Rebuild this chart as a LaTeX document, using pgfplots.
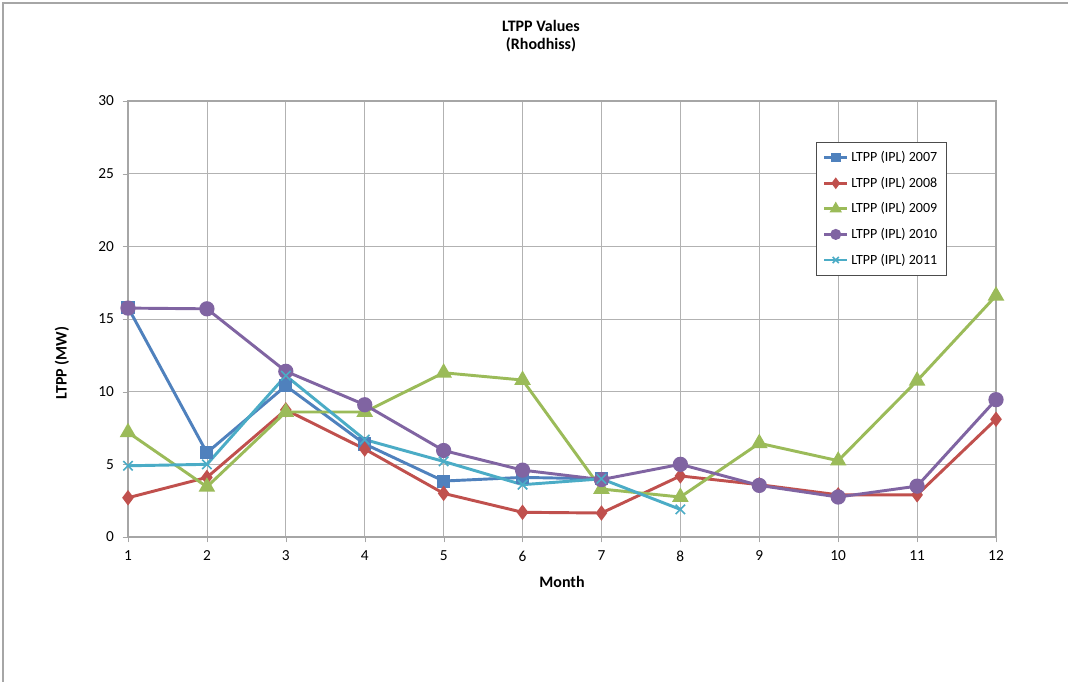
\documentclass[border=0pt]{standalone}
\usepackage{pgfplots}
\pgfplotsset{compat=1.18}
\usepackage{fontspec}
\setmainfont{Carlito}
\definecolor{c07}{HTML}{4F81BD}
\definecolor{c08}{HTML}{C0504D}
\definecolor{c09}{HTML}{9BBB59}
\definecolor{c10}{HTML}{8064A2}
\definecolor{c11}{HTML}{4BACC6}
\begin{document}
\begin{tikzpicture}[x=0.75pt,y=0.75pt]
\useasboundingbox (0,0) rectangle (1068,682);
\fill[white] (0,0) rectangle (1068,682);
\draw[gray!70,line width=1pt] (3,0) -- (3,679) -- (1068,679);
\node[font=\bfseries\fontsize{12}{14}\selectfont,align=center] at (541,646) {LTPP Values\\(Rhodhiss)};
\node[font=\bfseries\fontsize{12}{14}\selectfont,rotate=90] at (62,319) {LTPP (MW)};
\node[font=\bfseries\fontsize{12}{14}\selectfont] at (562,100) {Month};
\begin{axis}[
  at={(96pt,108.75pt)}, anchor=south west,
  scale only axis, width=651pt, height=327pt,
  xmin=1, xmax=12, ymin=0, ymax=30,
  xtick={1,...,12}, ytick={0,5,...,30},
  tick pos=left,
  grid=major, grid style={gray!60, line width=0.6pt},
  axis line style={gray!70, line width=0.8pt},
  tick style={gray!70}, tick align=outside, major tick length=4pt,
  tick label style={font=\fontsize{11.5}{13}\selectfont},
  xticklabel style={yshift=-3pt},
  yticklabel style={xshift=-3pt},
  /pgf/number format/assume math mode=true,
  clip=false,
  legend style={at={(0.7926,0.906)}, anchor=north west,
    draw=black!70, font=\fontsize{10.5}{12}\selectfont, row sep=6pt, inner sep=5pt,
    legend cell align=left},
  legend image code/.code={\draw[#1] (0pt,0pt) -- (0.6cm,0pt); \draw[#1,every mark/.append style={scale=0.65},mark repeat=2,mark phase=2] plot coordinates {(0pt,0pt) (0.3cm,0pt) (0.6cm,0pt)};},
  every axis plot/.append style={line width=2.2pt},
]
\addplot[c07, mark=square*, mark size=3.8pt, mark options={solid}] coordinates {
(1,15.8)(2,5.8)(3,10.4)(4,6.4)(5,3.85)(6,4.1)(7,4.0)};
\addlegendentry{LTPP (IPL) 2007}
\addplot[c08, mark=diamond*, mark size=4pt] coordinates {
(1,2.7)(2,4.1)(3,8.75)(4,6.05)(5,3.0)(6,1.7)(7,1.65)(8,4.2)(9,3.6)(10,2.9)(11,2.9)(12,8.1)};
\addlegendentry{LTPP (IPL) 2008}
\addplot[c09, mark=triangle*, mark size=5pt] coordinates {
(1,7.2)(2,3.45)(3,8.6)(4,8.6)(5,11.3)(6,10.8)(7,3.3)(8,2.75)(9,6.45)(10,5.25)(11,10.75)(12,16.6)};
\addlegendentry{LTPP (IPL) 2009}
\addplot[c10, mark=*, mark size=4.6pt] coordinates {
(1,15.75)(2,15.7)(3,11.4)(4,9.1)(5,5.95)(6,4.6)(7,3.95)(8,5.0)(9,3.55)(10,2.75)(11,3.5)(12,9.45)};
\addlegendentry{LTPP (IPL) 2010}
\addplot[c11, mark=x, mark size=5pt, mark options={line width=1.2pt}] coordinates {
(1,4.9)(2,5.0)(3,11.1)(4,6.7)(5,5.2)(6,3.6)(7,4.0)(8,1.9)};
\addlegendentry{LTPP (IPL) 2011}
\end{axis}
\end{tikzpicture}
\end{document}
